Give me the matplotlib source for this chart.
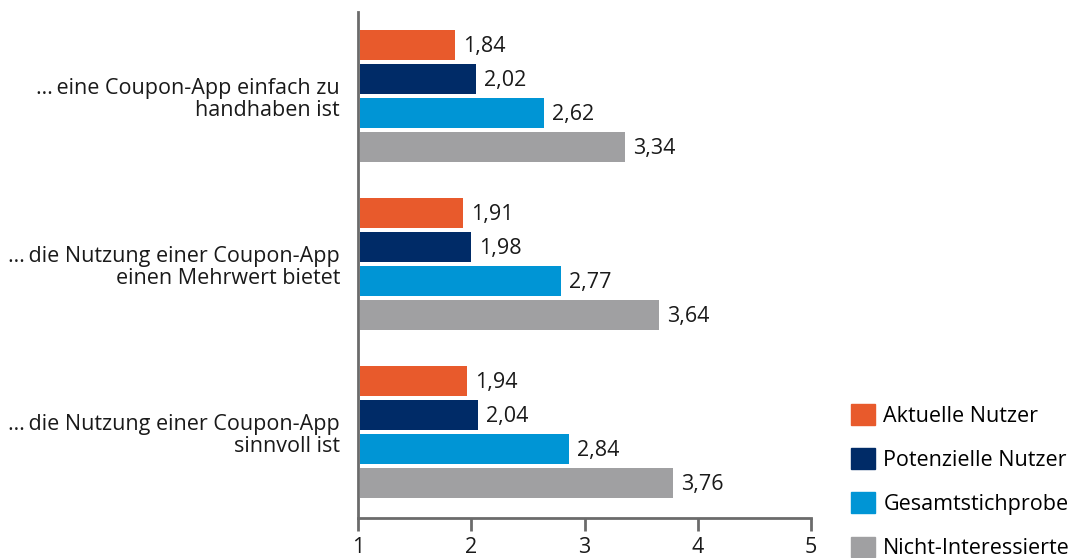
import matplotlib.pyplot as plt
from matplotlib.patches import Patch

plt.rcParams['font.family'] = ['Open Sans', 'DejaVu Sans']

categories = ['\u2026\u2009eine Coupon-App einfach zu\nhandhaben ist',
              '\u2026\u2009die Nutzung einer Coupon-App\neinen Mehrwert bietet',
              '\u2026\u2009die Nutzung einer Coupon-App\nsinnvoll ist']
series = ['Aktuelle Nutzer', 'Potenzielle Nutzer', 'Gesamtstichprobe', 'Nicht-Interessierte']
aktuelle = [1.84, 1.91, 1.94]
potenzielle = [2.02, 1.98, 2.04]
gesamt = [2.62, 2.77, 2.84]
nicht_int = [3.34, 3.64, 3.76]
colors = ['#E85A2C', '#002B67', '#0095D5', '#A0A0A2']
xticks = [1, 2, 3, 4, 5]

values = [aktuelle, potenzielle, gesamt, nicht_int]
group_pitch = 4.94
spine_col = '#6b6b6b'
fs = 15.5

fig = plt.figure(figsize=(10.71, 5.58), dpi=100)
ax = fig.add_axes([358/1071, 40/558, 453/1071, 506/558])

for s, vals in enumerate(values):
    for g, v in enumerate(vals):
        y = g * group_pitch + s
        ax.barh(y, v - 1, left=1.02, height=0.88, color=colors[s])
        ax.text(v + 0.09, y + 0.05, f'{v:.2f}'.replace('.', ','), va='center', ha='left',
                fontsize=fs, color='#1a1a1a')

for g, cat in enumerate(categories):
    ax.text(0.84, g * group_pitch + 1.6, cat, ha='right', va='center',
            fontsize=fs, color='#1a1a1a', linespacing=1.1)

ax.set_xlim(1, 5)
ax.set_ylim(13.91, -0.97)
ax.set_xticks(xticks)
ax.set_xticklabels([str(t) for t in xticks], fontsize=fs, color='#1a1a1a')
ax.set_yticks([])
ax.tick_params(axis='x', length=9, width=2, color=spine_col, pad=5)
for side in ['top', 'right']:
    ax.spines[side].set_visible(False)
for side in ['left', 'bottom']:
    ax.spines[side].set_color(spine_col)
    ax.spines[side].set_linewidth(2)

handles = [Patch(color=c, label=l) for c, l in zip(colors, series)]
fig.legend(handles=handles, loc='upper left', bbox_to_anchor=(851/1071, 1 - 404/558),
           frameon=False, fontsize=fs, handlelength=1.1, handleheight=1.1,
           handletextpad=0.4, labelspacing=1.0, borderpad=0, borderaxespad=0)

fig.savefig('out.png', dpi=100)
plt.close()
